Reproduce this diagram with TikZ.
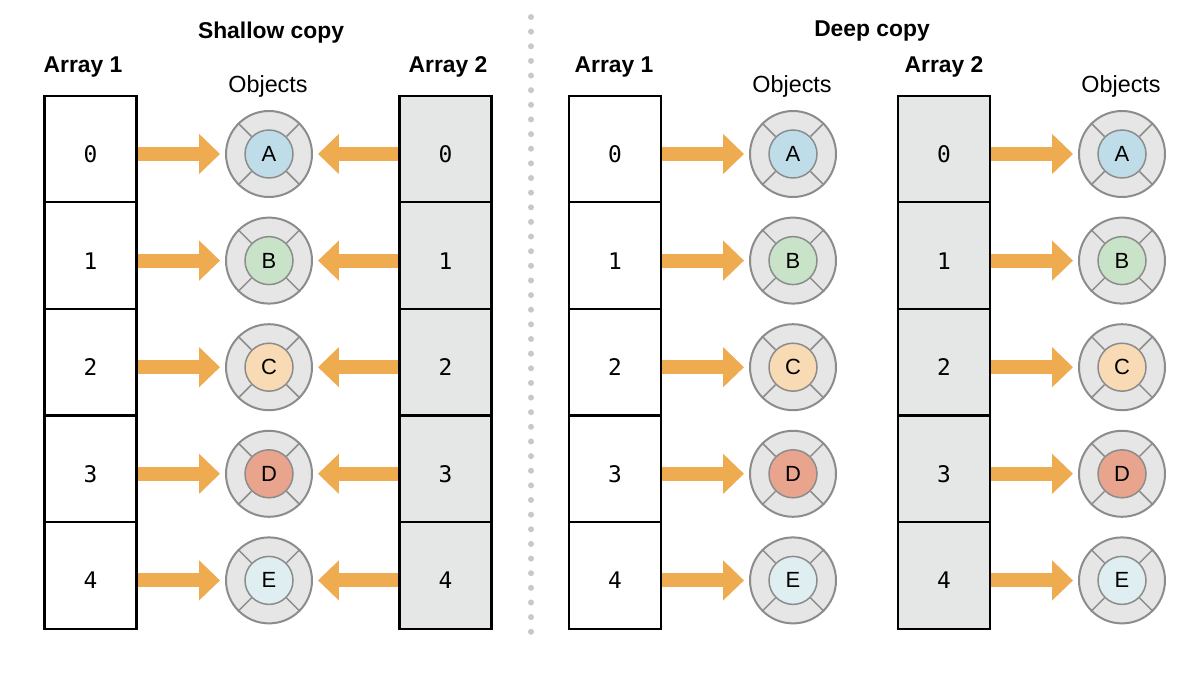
\documentclass[tikz,border=0pt]{standalone}
\usepackage{fontspec}
\setmainfont{Liberation Sans}
\newfontfamily\digitfont{DejaVu Sans Mono}
\usepackage{tikz}
\usetikzlibrary{arrows.meta,positioning}

\definecolor{ptrorange}{RGB}{238,171,79}
\definecolor{cellgray}{RGB}{229,230,230}
\definecolor{ringfill}{RGB}{230,230,230}
\definecolor{ringgray}{RGB}{140,140,140}
\definecolor{dotgray}{RGB}{200,200,200}
\definecolor{tintA}{RGB}{190,221,232}
\definecolor{tintB}{RGB}{200,227,200}
\definecolor{tintC}{RGB}{248,218,180}
\definecolor{tintD}{RGB}{233,164,142}
\definecolor{tintE}{RGB}{223,238,241}

\tikzset{
	cell/.style={draw=black, line width=0.042cm, minimum width=1.84cm, minimum height=2.132cm,
		inner sep=0pt, text height=0.54cm, text depth=0pt, font=\digitfont\fontsize{13}{15}\selectfont},
	copycell/.style={cell, fill=cellgray},
	objring/.style={circle, draw=ringgray, line width=0.04cm, fill=ringfill, minimum size=1.72cm, inner sep=0pt},
	objcore/.style={circle, draw=ringgray, line width=0.03cm, minimum size=0.96cm, inner sep=0pt,
		font=\fontsize{12.5}{14}\selectfont},
	spoke/.style={draw=ringgray, line width=0.03cm},
	ptr/.style={draw=ptrorange, line width=0.28cm, -{Triangle[width=0.78cm,length=0.42cm]}, shorten >=0.1cm},
	heading/.style={anchor=base, font=\bfseries\fontsize{13}{15}\selectfont},
	arrayname/.style={anchor=base, font=\bfseries\fontsize{13}{15}\selectfont},
	objname/.style={anchor=base, font=\fontsize{13.3}{15}\selectfont},
}

\begin{document}
\begin{tikzpicture}[x=0.02cm, y=-0.02cm]
	\fill[white] (0,0) rectangle (1200,682);
	\useasboundingbox (0,0) rectangle (1200,682);

	% titles
	\node[heading] (shallow) at (271,38.5) {Shallow copy};
	\node[heading] (deep) at (872,37) {Deep copy};
	\node[arrayname] (sa-name) at (83,72.5) {Array 1};
	\node[arrayname] (sb-name) at (448,72.5) {Array 2};
	\node[arrayname] (dc-name) at (614,72.5) {Array 1};
	\node[arrayname] (dd-name) at (944,72.5) {Array 2};
	\node[objname] (so-name) at (268,93) {Objects};
	\node[objname] (da-name) at (792,93) {Objects};
	\node[objname] (db-name) at (1121,93) {Objects};

	% separator
	\coordinate (sep-top) at (531,17);
	\coordinate (sep-bot) at (531,632);
	\draw[dotgray, line width=0.12cm, line cap=round, dash pattern=on 0pt off 0.2928cm] (sep-top) -- (sep-bot);

	% arrays
	\foreach \r in {0,...,4} {
		\node[cell] (sa\r) at (90.5,{149+106.6*\r}) {\r};
		\node[copycell] (sb\r) at (445.5,{149+106.6*\r}) {\r};
		\node[cell] (dc\r) at (615,{149+106.6*\r}) {\r};
		\node[copycell] (dd\r) at (944,{149+106.6*\r}) {\r};
	}

	% objects
	\foreach \col/\cx in {so/269, da/793, db/1122} {
		\foreach \r/\obj/\tint in {0/A/tintA, 1/B/tintB, 2/C/tintC, 3/D/tintD, 4/E/tintE} {
			\node[objring] (\col\r) at (\cx,{154+106.6*\r}) {};
			\node[objcore, fill=\tint] (\col\r-in) at (\col\r) {\obj};
			\foreach \a in {45,135,225,315}
				\draw[spoke] (\col\r-in.\a) -- (\col\r.\a);
		}
	}

	% references
	\foreach \r in {0,...,4} {
		\draw[ptr] (sa\r.east |- so\r) -- (so\r);
		\draw[ptr] (sb\r.west |- so\r) -- (so\r);
		\draw[ptr] (dc\r.east |- da\r) -- (da\r);
		\draw[ptr] (dd\r.east |- db\r) -- (db\r);
	}

\end{tikzpicture}
\end{document}
